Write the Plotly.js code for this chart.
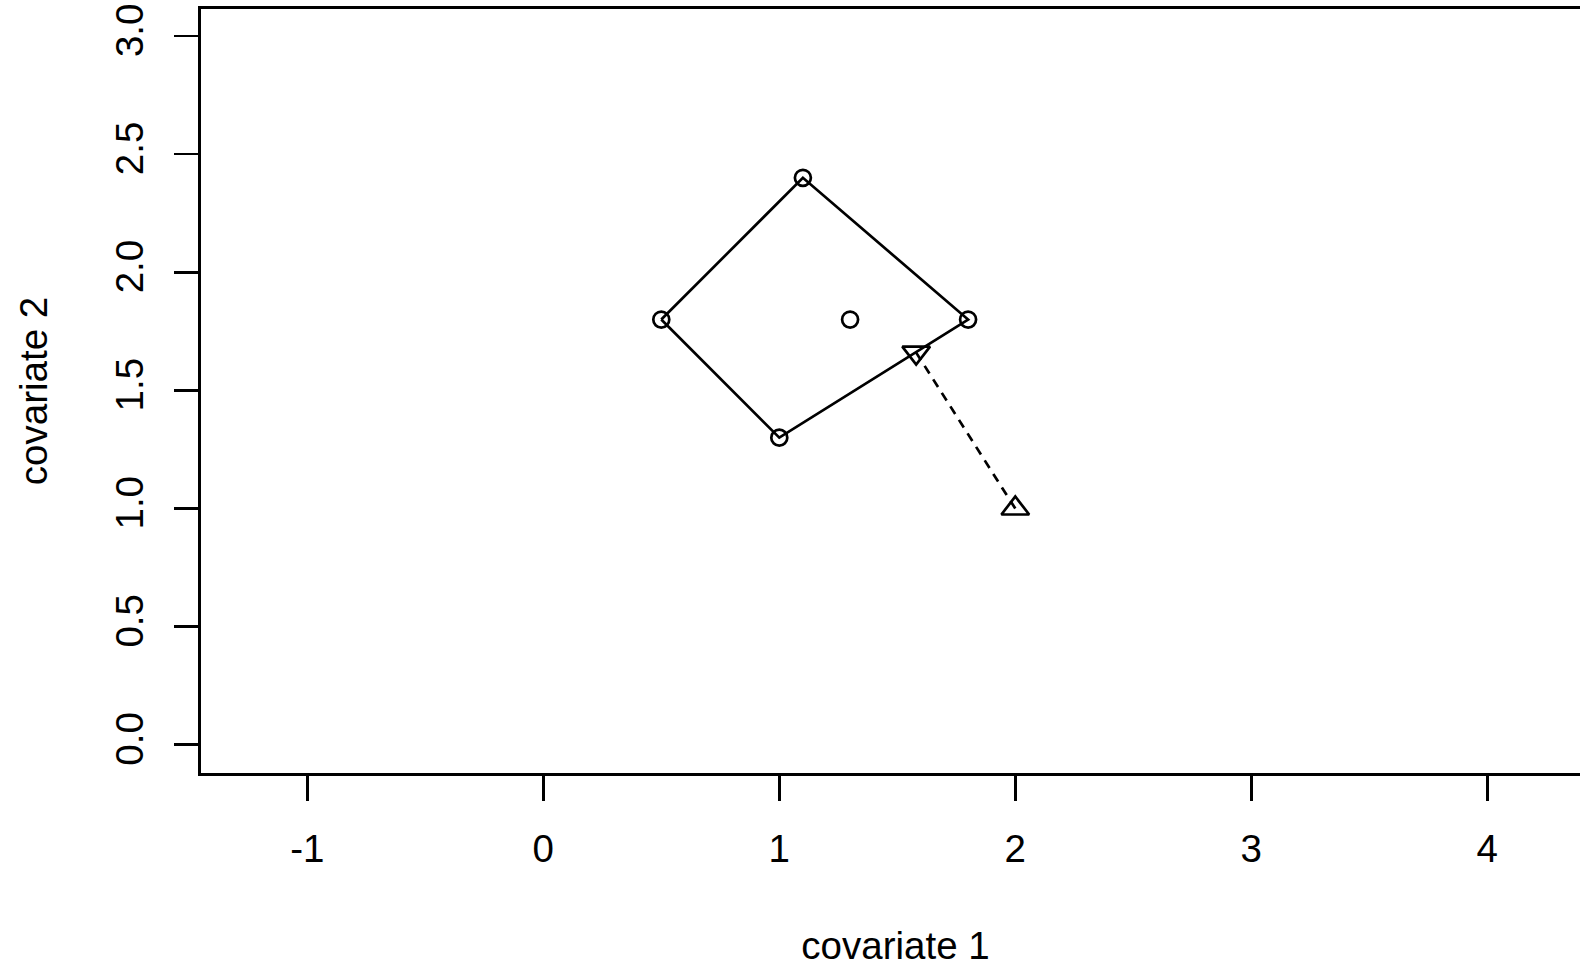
<!DOCTYPE html>
<html>
<head>
<meta charset="utf-8">
<script src="https://cdn.plot.ly/plotly-3.0.1.min.js"></script>
<style>
html, body { margin: 0; padding: 0; background: #fff; overflow: hidden; }
#chart { width: 1590px; height: 970px; }
</style>
</head>
<body>
<div id="chart"></div>
<script>
// Polygon (convex hull) vertices, closed
const hullX = [0.5, 1.1, 1.8, 1.0, 0.5];
const hullY = [1.8, 2.4, 1.8, 1.3, 1.8];
// Circle points (design points)
const ptsX = [0.5, 1.1, 1.8, 1.0, 1.3];
const ptsY = [1.8, 2.4, 1.8, 1.3, 1.8];
// Target point (triangle up) and its projection (triangle down)
const targetX = [2.0];
const targetY = [1.0];
const projX = [1.58];
const projY = [1.66];
// Axis ticks
const xTicks = [-1, 0, 1, 2, 3, 4];
const xTickText = ["-1", "0", "1", "2", "3", "4"];
const yTicks = [0, 0.5, 1, 1.5, 2, 2.5, 3];
const yTickText = ["0.0", "0.5", "1.0", "1.5", "2.0", "2.5", "3.0"];

const FONT = '"Liberation Sans", Arial, sans-serif';
const FS = 38.5;

const traces = [
  {
    x: hullX, y: hullY, mode: 'lines', type: 'scatter',
    line: { color: 'black', width: 2.7 }, hoverinfo: 'skip'
  },
  {
    x: [targetX[0], projX[0]], y: [targetY[0], projY[0]], mode: 'lines', type: 'scatter',
    line: { color: 'black', width: 2.7, dash: '9px,7px' }, hoverinfo: 'skip'
  },
  {
    x: ptsX, y: ptsY, mode: 'markers', type: 'scatter',
    marker: { symbol: 'circle-open', size: 16, color: 'black', line: { width: 2.7, color: 'black' } }
  },
  {
    x: targetX, y: targetY, mode: 'markers', type: 'scatter',
    marker: { symbol: 'triangle-up-open', size: 24, color: 'black', line: { width: 2.7, color: 'black' } }
  },
  {
    x: projX, y: projY, mode: 'markers', type: 'scatter',
    marker: { symbol: 'triangle-down-open', size: 24, color: 'black', line: { width: 2.7, color: 'black' } }
  }
];

const layout = {
  width: 1590, height: 970,
  margin: { l: 201, r: 0, t: 9, b: 197, pad: 0 },
  paper_bgcolor: 'white', plot_bgcolor: 'white',
  showlegend: false,
  font: { family: FONT, size: FS, color: 'black' },
  xaxis: {
    range: [-1.4504, 4.4352],
    tickmode: 'array', tickvals: xTicks, ticktext: xTickText,
    ticks: 'outside', ticklen: 25, tickwidth: 2.5, tickcolor: 'black',
    showline: true, mirror: true, linecolor: 'black', linewidth: 2.7,
    showgrid: false, zeroline: false,
    tickfont: { family: FONT, size: FS, color: 'black' },
    ticklabelstandoff: 15,
    title: { text: 'covariate 1', font: { family: FONT, size: FS, color: 'black' }, standoff: 63 },
    automargin: false
  },
  yaxis: {
    range: [-0.1198, 3.1147],
    tickmode: 'array', tickvals: yTicks, ticktext: yTickText,
    ticks: 'outside', ticklen: 24, tickwidth: 2.5, tickcolor: 'black',
    tickangle: -90,
    showline: true, mirror: false, linecolor: 'black', linewidth: 2.7,
    showgrid: false, zeroline: false,
    tickfont: { family: FONT, size: FS, color: 'black' },
    ticklabelstandoff: 16,
    title: { text: 'covariate 2', font: { family: FONT, size: FS, color: 'black' }, standoff: 49 },
    automargin: false
  }
};

Plotly.newPlot('chart', traces, layout, { staticPlot: true, displayModeBar: false });
</script>
</body>
</html>
